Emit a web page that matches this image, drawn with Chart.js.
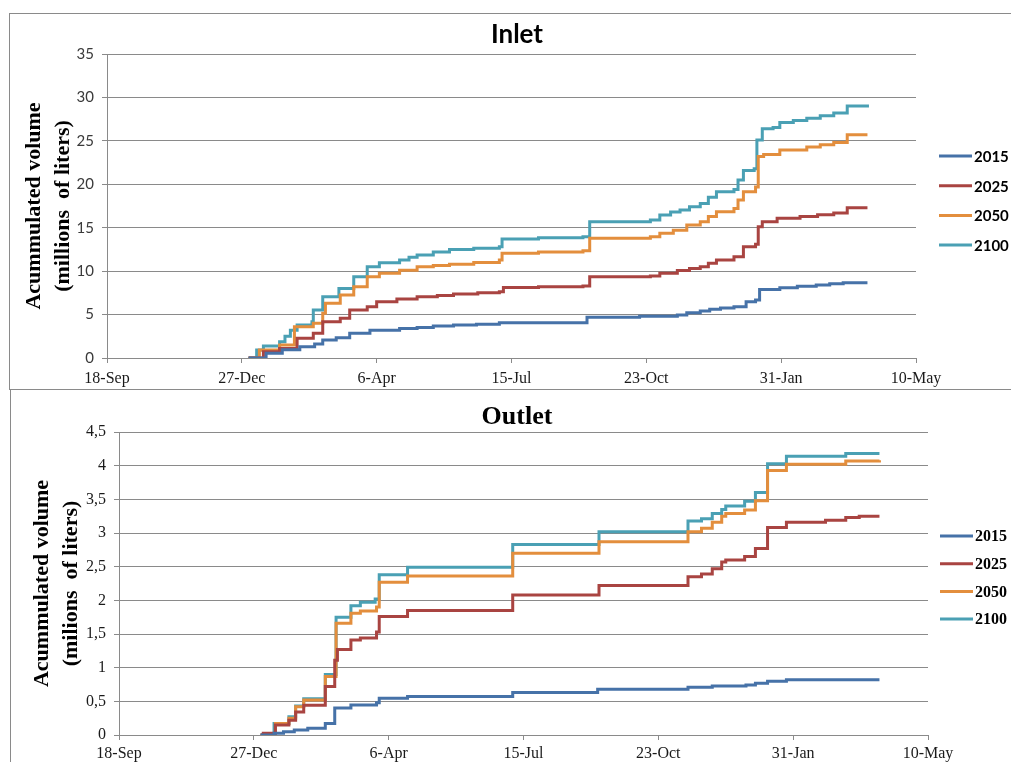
<!DOCTYPE html>
<html>
<head>
<meta charset="utf-8">
<script src="https://cdn.jsdelivr.net/npm/chart.js@4.4.1/dist/chart.umd.min.js"></script>
<style>
  html, body { margin: 0; padding: 0; background: #ffffff; }
  body { width: 1011px; height: 762px; position: relative; overflow: hidden; }
  .frame { position: absolute; border: 1px solid #8a8a8a; background: #fff; }
  #topFrame { left: 9px; top: 13px; width: 1005px; height: 375px; }
  #botFrame { left: 10px; top: 389px; width: 1004px; height: 372px; }
  canvas { display: block; }
</style>
</head>
<body>
<div class="frame" id="topFrame"><canvas id="inlet" width="1001" height="375"></canvas></div>
<div class="frame" id="botFrame"><canvas id="outlet" width="1000" height="372"></canvas></div>
<script>
// ---------- data ----------
const xTickLabels = ['18-Sep', '27-Dec', '6-Apr', '15-Jul', '23-Oct', '31-Jan', '10-May'];
const seriesNames = ['2015', '2025', '2050', '2100'];
const seriesColors = ['#4672a8', '#a94441', '#e38e3d', '#4aa0b4'];
const yTitle = ['Acummulated volume', '(millions  of liters)'];
const yTitleOutlet = ['Acummulated volume', '(milions  of liters)'];

// Inlet (days after 18-Sep, millions of liters)
const inletDays2015 = [105, 118, 130, 143, 154, 160, 170, 180, 195, 217, 230, 242, 257, 274, 291, 356, 395, 423, 430, 440, 447, 455, 465, 474, 481, 484, 499, 512, 526, 536, 546, 564];
const inletVol2015  = [0, 0.54, 0.95, 1.3, 1.6, 2.07, 2.34, 2.84, 3.2, 3.4, 3.5, 3.68, 3.8, 3.9, 4.07, 4.7, 4.8, 4.95, 5.22, 5.4, 5.6, 5.75, 5.9, 6.48, 6.68, 7.9, 8.1, 8.25, 8.4, 8.55, 8.67, 8.67];
const inletDays2025 = [105, 116, 128, 141, 153, 160, 173, 180, 193, 200, 215, 230, 245, 257, 275, 291, 294, 320, 353, 358, 403, 410, 423, 432, 440, 446, 452, 465, 472, 481, 483, 486, 497, 514, 527, 539, 549, 564];
const inletVol2025  = [0, 0.73, 1.1, 2.26, 2.84, 4.18, 4.57, 5.53, 5.9, 6.48, 6.8, 7.06, 7.2, 7.37, 7.5, 7.64, 8.13, 8.2, 8.29, 9.36, 9.44, 9.75, 10.06, 10.3, 10.5, 10.9, 11.28, 11.67, 12.8, 13.1, 15.1, 15.7, 16.08, 16.3, 16.5, 16.7, 17.3, 17.3];
const inletDays2050 = [105, 113, 128, 139, 153, 160, 162, 173, 183, 193, 202, 217, 230, 242, 254, 272, 291, 293, 320, 353, 358, 403, 410, 420, 430, 440, 446, 452, 465, 468, 472, 481, 483, 487, 499, 519, 529, 539, 549, 564];
const inletVol2050  = [0, 0.92, 1.5, 3.6, 4.0, 5.14, 6.3, 7.25, 8.2, 9.36, 9.75, 10.1, 10.5, 10.65, 10.8, 11.0, 11.28, 12.05, 12.2, 12.35, 13.8, 13.97, 14.35, 14.7, 15.3, 15.7, 16.3, 16.84, 17.2, 18.2, 19.15, 19.7, 23.2, 23.44, 23.95, 24.3, 24.55, 24.8, 25.7, 25.7];
const inletDays2100 = [105, 111, 116, 128, 132, 136, 141, 152, 153, 160, 172, 183, 193, 202, 217, 224, 230, 242, 254, 272, 291, 293, 320, 353, 358, 403, 410, 418, 425, 432, 440, 446, 452, 465, 468, 472, 480, 482, 486, 494, 499, 509, 519, 529, 539, 549, 564];
const inletVol2100  = [0, 0.92, 1.38, 1.88, 2.5, 3.2, 3.8, 4.18, 5.53, 7.06, 8.0, 9.36, 10.5, 10.98, 11.28, 11.6, 11.86, 12.2, 12.5, 12.65, 12.8, 13.7, 13.85, 13.97, 15.7, 15.9, 16.46, 16.8, 17.04, 17.4, 17.8, 18.5, 19.15, 19.4, 20.5, 21.6, 21.8, 25.1, 26.4, 26.55, 27.1, 27.35, 27.6, 27.9, 28.2, 29.0, 29.2];

// Outlet
const outletDays2015 = [105, 115, 122, 130, 140, 153, 160, 172, 191, 193, 214, 292, 355, 422, 440, 465, 472, 481, 495, 564];
const outletVol2015  = [0, 0.025, 0.05, 0.074, 0.1, 0.17, 0.4, 0.445, 0.48, 0.545, 0.57, 0.63, 0.68, 0.71, 0.727, 0.742, 0.767, 0.8, 0.82, 0.82];
const outletDays2025 = [105, 107, 116, 126, 131, 137, 153, 160, 162, 172, 179, 191, 193, 214, 292, 356, 422, 432, 440, 447, 450, 464, 472, 481, 495, 524, 539, 549, 564];
const outletVol2025  = [0, 0.025, 0.15, 0.22, 0.34, 0.44, 0.72, 1.11, 1.27, 1.41, 1.44, 1.53, 1.76, 1.85, 2.08, 2.22, 2.35, 2.39, 2.47, 2.57, 2.6, 2.65, 2.77, 3.08, 3.16, 3.19, 3.23, 3.25, 3.25];
const outletDays2050 = [105, 116, 126, 131, 137, 153, 161, 172, 179, 191, 193, 214, 292, 356, 422, 432, 440, 447, 450, 464, 472, 481, 495, 539, 564];
const outletVol2050  = [0, 0.17, 0.25, 0.42, 0.52, 0.87, 1.66, 1.81, 1.84, 1.9, 2.27, 2.36, 2.7, 2.87, 3.02, 3.07, 3.16, 3.25, 3.29, 3.34, 3.48, 3.93, 4.02, 4.07, 4.08];
const outletDays2100 = [105, 115, 126, 131, 137, 153, 161, 172, 179, 190, 193, 214, 292, 356, 422, 432, 440, 447, 450, 464, 472, 481, 495, 539, 564];
const outletVol2100  = [0, 0.17, 0.27, 0.43, 0.54, 0.9, 1.75, 1.92, 1.97, 2.02, 2.38, 2.49, 2.83, 3.02, 3.18, 3.21, 3.29, 3.35, 3.4, 3.47, 3.6, 4.03, 4.14, 4.18, 4.18];

// ---------- helpers ----------
function pts(days, vals) { return days.map((d, i) => ({ x: d, y: vals[i] })); }
function makeDatasets(pairs) {
  return pairs.map((p, i) => ({
    label: seriesNames[i],
    data: pts(p[0], p[1]),
    borderColor: seriesColors[i],
    backgroundColor: seriesColors[i],
    borderWidth: 3,
    stepped: true,
    pointRadius: 0,
    fill: false
  }));
}

// custom plugin: chart title and right-hand legend drawn as text
const sideText = {
  id: 'sideText',
  afterDraw(chart, args, o) {
    const ctx = chart.ctx;
    ctx.save();
    ctx.fillStyle = '#000';
    ctx.textAlign = 'center';
    ctx.textBaseline = 'middle';
    ctx.font = o.titleFont;
    ctx.fillText(o.title, o.titleX, o.titleY);
    ctx.textAlign = 'left';
    ctx.font = o.legendFont;
    chart.data.datasets.forEach((ds, i) => {
      const y = o.legendY + i * o.legendGap;
      ctx.strokeStyle = ds.borderColor;
      ctx.lineWidth = 3;
      ctx.beginPath();
      ctx.moveTo(o.legendX, y);
      ctx.lineTo(o.legendX + 33, y);
      ctx.stroke();
      ctx.fillStyle = '#000';
      ctx.fillText(ds.label, o.legendX + 35, y + 1);
    });
    ctx.restore();
  }
};

function baseOptions(cfg) {
  return {
    responsive: false,
    devicePixelRatio: 1,
    animation: false,
    events: [],
    layout: { padding: { left: 0, right: cfg.padRight, top: cfg.padTop, bottom: 0 } },
    plugins: {
      legend: { display: false },
      tooltip: { enabled: false },
      sideText: cfg.side
    },
    scales: {
      x: {
        type: 'linear', min: 0, max: 600,
        ticks: {
          stepSize: 100, autoSkip: false, maxRotation: 0,
          callback: v => xTickLabels[Math.round(v / 100)],
          font: { family: 'Liberation Serif', size: 16 }, color: '#1a1a1a', padding: cfg.xPad
        },
        grid: { drawOnChartArea: false, tickLength: 5, color: '#8a8a8a' },
        border: { color: '#8a8a8a', width: 1 },
        afterFit: s => { s.height = cfg.xHeight; }
      },
      y: {
        min: 0, max: cfg.yMax,
        ticks: {
          stepSize: cfg.yStep,
          callback: v => String(v).replace('.', ','),
          font: cfg.yTickFont, color: cfg.yTickColor, padding: 8
        },
        grid: { color: '#8a8a8a', tickLength: 5 },
        border: { color: '#8a8a8a', width: 1 },
        title: {
          display: true, text: cfg.yTitle, color: '#000',
          font: { family: 'Liberation Serif', size: 22, weight: 'bold', lineHeight: 1.3 },
          padding: { top: cfg.yTitlePad, bottom: 0 }
        },
        afterFit: s => { s.width = cfg.yWidth; }
      }
    }
  };
}

new Chart(document.getElementById('inlet'), {
  type: 'line',
  data: { datasets: makeDatasets([
    [inletDays2015, inletVol2015], [inletDays2025, inletVol2025],
    [inletDays2050, inletVol2050], [inletDays2100, inletVol2100]]) },
  options: baseOptions({
    padRight: 95, padTop: 40, xHeight: 31, yWidth: 97, xPad: 6,
    yMax: 35, yStep: 5, yTitle: yTitle, yTitlePad: 10,
    yTickFont: { family: 'Lato', size: 15 }, yTickColor: '#3a3a3a',
    side: { title: 'Inlet', titleFont: 'bold 26px Lato', titleX: 507, titleY: 21,
            legendFont: 'bold 15px Lato', legendX: 929, legendY: 142, legendGap: 29.7 }
  }),
  plugins: [sideText]
});

new Chart(document.getElementById('outlet'), {
  type: 'line',
  data: { datasets: makeDatasets([
    [outletDays2015, outletVol2015], [outletDays2025, outletVol2025],
    [outletDays2050, outletVol2050], [outletDays2100, outletVol2100]]) },
  options: baseOptions({
    padRight: 83, padTop: 42, xHeight: 27, yWidth: 108, xPad: 4,
    yMax: 4.5, yStep: 0.5, yTitle: yTitleOutlet, yTitlePad: 17,
    yTickFont: { family: 'Liberation Serif', size: 16 }, yTickColor: '#1a1a1a',
    side: { title: 'Outlet', titleFont: 'bold 26px "Liberation Serif"', titleX: 506, titleY: 27,
            legendFont: 'bold 16px "Liberation Serif"', legendX: 929, legendY: 146, legendGap: 27.7 }
  }),
  plugins: [sideText]
});
</script>
</body>
</html>
